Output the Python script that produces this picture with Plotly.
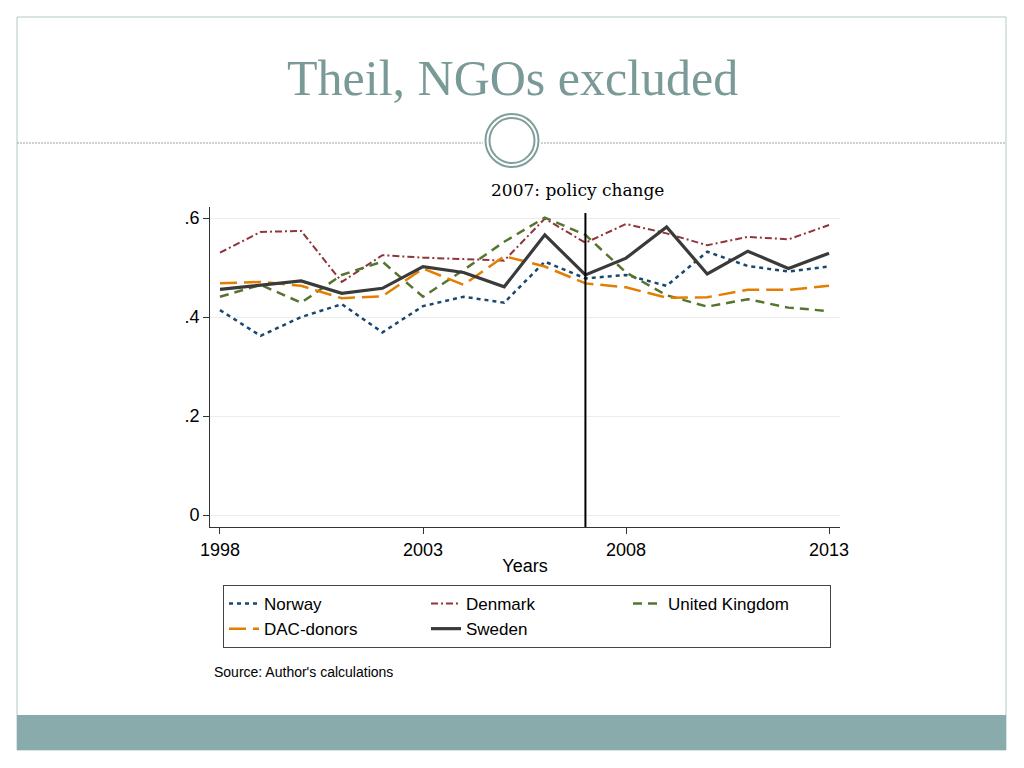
import plotly.graph_objects as go

years = list(range(1998, 2014))
norway = [0.414, 0.362, 0.400, 0.426, 0.369, 0.422, 0.441, 0.429, 0.512, 0.478, 0.485, 0.463, 0.532, 0.503, 0.492, 0.502]
denmark = [0.530, 0.572, 0.574, 0.471, 0.525, 0.520, 0.517, 0.514, 0.599, 0.550, 0.588, 0.569, 0.545, 0.562, 0.557, 0.586]
uk = [0.441, 0.465, 0.429, 0.485, 0.512, 0.441, 0.495, 0.552, 0.601, 0.566, 0.490, 0.444, 0.421, 0.436, 0.419, 0.412]
dac = [0.468, 0.471, 0.463, 0.438, 0.442, 0.498, 0.465, 0.523, 0.502, 0.468, 0.460, 0.439, 0.440, 0.455, 0.455, 0.463]
sweden = [0.456, 0.465, 0.473, 0.448, 0.458, 0.502, 0.490, 0.461, 0.566, 0.485, 0.519, 0.582, 0.487, 0.533, 0.498, 0.529]
policy_year = 2007
x_ticks = [1998, 2003, 2008, 2013]
y_ticks = [0, 0.2, 0.4, 0.6]
y_tick_labels = ["0", ".2", ".4", ".6"]

W, H = 1024, 768
L, R, T, B = 210, 840, 207, 527


def px(xp):
    return (xp - L) / (R - L)


def py(yp):
    return (B - yp) / (B - T)


fig = go.Figure()
series = [
    ("Norway", norway, "#1a476f", "4px,4px", 2.5),
    ("Denmark", denmark, "#90353b", "7px,3px,2px,3px", 2),
    ("United Kingdom", uk, "#55752f", "9px,6px", 2.5),
    ("DAC-donors", dac, "#e37e00", "17px,7px", 2.5),
    ("Sweden", sweden, "#3a3a3a", "solid", 3.2),
]
for name, vals, col, dash, w in series:
    fig.add_trace(go.Scatter(x=years, y=vals, mode="lines", name=name,
                             line=dict(color=col, dash=dash, width=w)))

teal = "#8aabab"
circ = "#7f9f9c"
shapes = [
    dict(type="rect", xref="paper", yref="paper",
         x0=px(17), x1=px(1006), y0=py(750), y1=py(17),
         line=dict(color="#b5c8c8", width=1), layer="below"),
    dict(type="rect", xref="paper", yref="paper",
         x0=px(17), x1=px(1006), y0=py(750), y1=py(715),
         fillcolor=teal, line=dict(width=0), layer="below"),
    dict(type="line", xref="paper", yref="paper",
         x0=px(17), x1=px(483), y0=py(143), y1=py(143),
         line=dict(color="#a0a0a0", width=1, dash="2px,1px")),
    dict(type="line", xref="paper", yref="paper",
         x0=px(541), x1=px(1006), y0=py(143), y1=py(143),
         line=dict(color="#a0a0a0", width=1, dash="2px,1px")),
    dict(type="circle", xref="paper", yref="paper",
         x0=px(485.5), x1=px(538.5), y0=py(167), y1=py(114),
         line=dict(color=circ, width=2)),
    dict(type="circle", xref="paper", yref="paper",
         x0=px(489.5), x1=px(534.5), y0=py(163), y1=py(118),
         line=dict(color=circ, width=2)),
    dict(type="line", xref="x", yref="paper", x0=policy_year, x1=policy_year,
         y0=0, y1=py(213), line=dict(color="black", width=2)),
]

annotations = [
    dict(text="Theil, NGOs excluded", xref="paper", yref="paper",
         x=px(512), y=py(78), showarrow=False, xanchor="center", yanchor="middle",
         font=dict(family="Liberation Serif, serif", size=50, color="#7a9a98")),
    dict(text=f"{policy_year}: policy change", xref="x", yref="paper",
         x=policy_year - 0.2, y=py(190), showarrow=False, xanchor="center", yanchor="middle",
         font=dict(family="DejaVu Serif, serif", size=17, color="black")),
    dict(text="Source: Author's calculations", xref="paper", yref="paper",
         x=px(212), y=py(672), showarrow=False, xanchor="left", yanchor="middle",
         font=dict(family="Liberation Sans, Arial, sans-serif", size=14, color="black")),
]

fig.update_layout(
    width=W, height=H,
    margin=dict(l=L, r=W - R, t=T, b=H - B, autoexpand=False),
    paper_bgcolor="white", plot_bgcolor="white",
    shapes=shapes, annotations=annotations,
    font=dict(family="Liberation Sans, Arial, sans-serif", size=18, color="black"),
    legend=dict(orientation="h", x=px(223), y=py(585),
                xanchor="left", yanchor="top", bordercolor="#444", borderwidth=1,
                entrywidth=157, traceorder="normal",
                font=dict(size=17), bgcolor="white"),
    xaxis=dict(range=[1997.754, 2013.27], tickvals=x_ticks, ticktext=[str(v) for v in x_ticks],
               showline=True, linecolor="#333", linewidth=1, ticks="outside", ticklen=6,
               tickcolor="#333", showgrid=False, zeroline=False,
               tickfont=dict(size=18), title=dict(text="Years", font=dict(size=18), standoff=0)),
    yaxis=dict(range=[-0.0242, 0.6223], tickvals=y_ticks, ticktext=y_tick_labels,
               showline=True, linecolor="#333", linewidth=1, ticks="outside", ticklen=6,
               tickcolor="#333", showgrid=True, gridcolor="#ececec", gridwidth=1,
               zeroline=False, tickfont=dict(size=18)),
)

fig.write_html("out.html", config={"displayModeBar": False},
               post_script="document.body.style.margin='0';")
